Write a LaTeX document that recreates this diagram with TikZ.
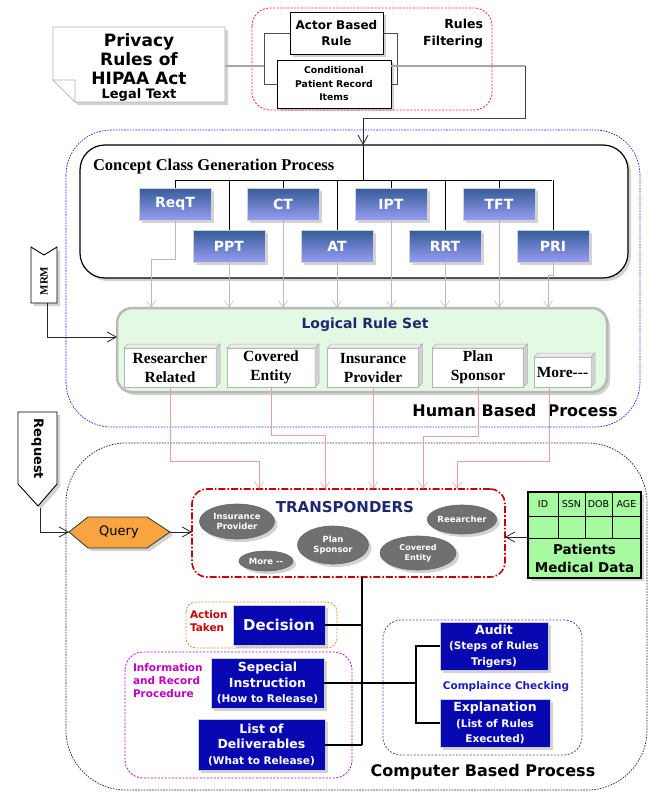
\documentclass[tikz,border=0pt]{standalone}
\usepackage{fontspec}
\newfontfamily\dv{DejaVu Sans}
\newfontfamily\tm{Liberation Serif}
\usetikzlibrary{shadows,arrows.meta,calc,shapes.geometric}
\definecolor{gtop}{RGB}{52,92,152}
\definecolor{gbot}{RGB}{152,156,242}
\definecolor{navy}{RGB}{30,40,110}
\definecolor{dblue}{RGB}{8,8,178}
\definecolor{qorange}{RGB}{248,164,64}
\definecolor{pgreen}{RGB}{166,250,160}
\definecolor{lgreen}{RGB}{228,249,228}
\definecolor{ellg}{RGB}{112,112,112}
\definecolor{pinkl}{RGB}{226,160,160}
\definecolor{tred}{RGB}{200,0,0}
\definecolor{mag}{RGB}{190,0,190}
\definecolor{cblue}{RGB}{30,30,185}
\definecolor{aorange}{RGB}{240,128,60}
\newcommand\fsz[2]{\fontsize{#1}{#2}\selectfont}
\newcommand\cubefaces[1]{%
 \path[fill=gray!15,draw=gray!60,line width=0.5pt] (#1.north west) -- ([shift={(4pt,4pt)}]#1.north west) -- ([shift={(4pt,4pt)}]#1.north east) -- (#1.north east) -- cycle;
 \path[fill=gray!35,draw=gray!60,line width=0.5pt] (#1.north east) -- ([shift={(4pt,4pt)}]#1.north east) -- ([shift={(4pt,4pt)}]#1.south east) -- (#1.south east) -- cycle;}
\begin{document}
\begin{tikzpicture}[x=1pt,y=-1pt,
 every node/.style={inner sep=0pt,outer sep=0pt},
 sh/.style={drop shadow={shadow xshift=3pt,shadow yshift=-3pt,opacity=0.35}},
 wbox/.style={draw=black,line width=1pt,fill=white,sh,align=center,font=\dv\bfseries\fsz{12}{16}},
 gbox/.style={draw=gray!35,line width=0.8pt,top color=gtop,bottom color=gbot,minimum width=72pt,minimum height=32pt,font=\dv\bfseries\fsz{14}{16},text=white,sh},
 cube/.style={draw=gray!60,line width=0.6pt,fill=white,align=center,font=\tm\bfseries\fsz{15.5}{19}},
 ell/.style={ellipse,draw=black!60,line width=0.6pt,fill=ellg,text=white,align=center,font=\dv\bfseries\fsz{8.5}{10.5},sh},
 bbox/.style={draw=gray!40,line width=0.8pt,fill=dblue,text=white,align=center,font=\dv\bfseries\fsz{12.5}{15.5},sh},
 garrow/.style={draw=gray!55,line width=0.5pt,-{Straight Barb[length=7pt,width=9pt]}},
 parrow/.style={draw=pinkl,line width=0.5pt,-{Straight Barb[length=7pt,width=9pt]}},
 bus/.style={draw=black,line width=0.8pt},
 tline/.style={draw=black,line width=2pt},
 karrow/.style={draw=black!85,line width=0.8pt,-{Straight Barb[length=9pt,width=10pt]}},
 bigtext/.style={font=\dv\bfseries\fsz{16}{18}}
]
\useasboundingbox (0,0) rectangle (648,795);
\fill[white] (0,0) rectangle (648,795);

% ---------- regions ----------
\draw[blue!85,line width=0.7pt,dash pattern=on 1.6pt off 1.2pt,rounded corners=45pt] (66,130) rectangle (640,427);
\draw[black!85,line width=0.7pt,dash pattern=on 1.6pt off 1.2pt,rounded corners=60pt] (66,443) rectangle (647,790);

% ---------- legal text note ----------
\path[fill=white,draw=gray!60,line width=0.8pt,sh] (53,27) -- (225,27) -- (225,102) -- (75,102) -- (53,80) -- cycle;
\path[fill=white,draw=gray!60,line width=0.6pt] (53,80) -- (75,80) -- (75,102) -- cycle;
\node[font=\dv\bfseries\fsz{17}{19},align=center] (note) at (139,59) {Privacy\\Rules of\\HIPAA Act};
\node[font=\dv\bfseries\fsz{13}{14}] (legal) at (139,95) {Legal Text};
\coordinate (noteE) at (225,66);
\coordinate (lb) at (264,66);

% ---------- rules filtering ----------
\draw[red!85,line width=0.8pt,dash pattern=on 2pt off 1.5pt,rounded corners=18pt] (252,8) rectangle (492,110);
\node[font=\dv\bfseries\fsz{12.5}{17},align=right,anchor=east] (rft) at (483,33.5) {Rules\\Filtering};
\node[wbox,minimum width=93pt,minimum height=42pt] (abr) at (336.5,33) {Actor Based\\Rule};
\node[wbox,minimum width=114pt,minimum height=48pt,font=\dv\bfseries\fsz{9.3}{13.5}] (cpr) at (334,84) {Conditional\\Patient Record\\Items};
\draw[black!70,line width=1pt] (abr.west) -- ++(-26,0) |- (cpr.west);
\draw[black!70,line width=1pt] (abr.east) -- ++(14,0) |- (cpr.east);
\draw[gray!70,line width=1.3pt] (noteE) -- (lb);
\coordinate (cprE) at (391,66);
\coordinate (turn) at (525,66);
\draw[gray!70,line width=1.3pt] (cprE) -- (turn);
\coordinate (entry) at (363,145);
\draw[black!75,line width=0.9pt] (turn) -- (525,118) -- (363,118);
\draw[karrow] (363,118) -- (entry);

% ---------- concept class generation ----------
\node[draw=black,line width=1.2pt,fill=white,rounded corners=25pt,minimum width=548pt,minimum height=133pt,sh] (ccg) at (354,211.5) {};
\node[font=\tm\bfseries\fsz{16.5}{18},anchor=west] (ccgt) at (93,167) {Concept Class Generation Process};
\coordinate (busL) at (175,180);
\coordinate (busR) at (552,180);
\draw[bus] (entry) -- (entry |- busL);
\draw[bus] (busL) -- (busR);

\node[gbox] (reqt) at (175,204) {ReqT};
\node[gbox] (ct) at (283,204) {CT};
\node[gbox] (ipt) at (391,204) {IPT};
\node[gbox] (tft) at (499,204) {TFT};
\node[gbox] (ppt) at (229,246) {PPT};
\node[gbox] (at) at (337,246) {AT};
\node[gbox] (rrt) at (445,246) {RRT};
\node[gbox] (pri) at (553,246) {PRI};
\foreach \n in {reqt,ct,ipt,tft,ppt,at,rrt,pri}{
  \draw[bus] (\n.north |- busL) -- (\n.north);}

% ---------- logical rule set ----------
\node[draw=gray!55,line width=2.5pt,fill=lgreen,rounded corners=15pt,minimum width=490pt,minimum height=84pt,sh] (lrs) at (362,350) {};
\node[font=\dv\bfseries\fsz{14}{16},text=navy] (lrst) at (365,325) {Logical Rule Set};
\node[cube,minimum width=92pt,minimum height=39pt] (rr) at (170,367.5) {Researcher\\Related};
\node[cube,minimum width=88pt,minimum height=39pt] (ce) at (271,367.5) {Covered\\Entity};
\node[cube,minimum width=91pt,minimum height=39pt] (ip) at (373,367.5) {Insurance\\Provider};
\node[cube,minimum width=91pt,minimum height=39pt] (ps) at (478,367.5) {Plan\\Sponsor};
\node[cube,minimum width=57pt,minimum height=30pt] (mo) at (562.5,372) {More---};
\foreach \n in {rr,ce,ip,ps,mo}{\cubefaces{\n}}

% gray arrows concept -> logical
\draw[garrow] (reqt.south) -- (175,259) -- (151,259) -- (151,308);
\foreach \n in {ppt,ct,at,ipt,rrt,tft}{
  \draw[garrow] (\n.south) -- (\n.south |- lrs.north);}
\draw[garrow] (pri.south) -- (553,275) -- (548,275) -- (548,308);

\node[bigtext] (hbp) at (515,411) {Human Based~ Process};

% ---------- MRM ----------
\path[fill=white,draw=black,line width=0.9pt,sh] (31,247) -- (44,255) -- (57,247) -- (57,303) -- (31,303) -- cycle;
\node[font=\tm\bfseries\fsz{11}{12},rotate=90] (mrm) at (44,281) {MRM};
\coordinate (mrmS) at (47,303);
\draw[karrow] (mrmS) |- (117,337);

% ---------- request & query ----------
\path[fill=white,draw=black,line width=0.9pt,sh] (18,412) -- (57,412) -- (57,484) -- (38,506) -- (18,484) -- cycle;
\node[font=\dv\bfseries\fsz{13}{14},rotate=-90] (req) at (37.5,449) {Request};
\coordinate (reqS) at (40,508);
\path[fill=qorange,draw=black!80,line width=0.8pt,sh] (69,532) -- (88,517) -- (147,517) -- (170,532) -- (147,548) -- (88,548) -- cycle;
\node[font=\dv\fsz{13}{14}] (query) at (119,532) {Query};
\coordinate (qW) at (69,532);
\coordinate (qE) at (170,532);
\draw[karrow] (reqS) |- (qW);

% ---------- transponders ----------
\node[draw=tred,line width=1.6pt,dash pattern=on 7pt off 2pt on 1.6pt off 2pt,rounded corners=15pt,minimum width=313pt,minimum height=88pt] (tr) at (348.5,533) {};
\draw[karrow] (qE) -- (tr.west |- qE);
\node[font=\dv\bfseries\fsz{15}{17},text=navy] (trt) at (345,507) {TRANSPONDERS};
\node[ell,minimum width=75pt,minimum height=35pt] (e1) at (237,521.5) {Insurance\\Provider};
\node[ell,minimum width=54pt,minimum height=20pt] (e2) at (266,561) {More --};
\node[ell,minimum width=71pt,minimum height=38pt] (e3) at (333,545) {Plan\\Sponsor};
\node[ell,minimum width=76pt,minimum height=34pt,font=\dv\bfseries\fsz{8}{10}] (e4) at (418,553) {Covered\\Entity};
\node[ell,minimum width=68pt,minimum height=29pt] (e5) at (462,519.5) {Reearcher};

% pink arrows logical -> transponders
\draw[parrow] (rr.south) -- (170,461) -- (259,461) -- (259,489);
\draw[parrow] (ce.south) -- (271,435) -- (325,435) -- (325,489);
\draw[parrow] (ip.south) -- (ip.south |- tr.north);
\draw[parrow] (ps.south) -- (478,436) -- (423,436) -- (423,489);
\coordinate (moS) at (549,387);
\draw[parrow] (moS) -- (549,461) -- (457,461) -- (457,489);

% ---------- patients medical data ----------
\node[draw=black,line width=1.6pt,fill=pgreen,minimum width=113pt,minimum height=86pt,sh] (pmd) at (584.5,535) {};
\draw[black,line width=0.8pt] (528,516) -- (641,516) (528,538) -- (641,538);
\foreach \x in {558,585,612}{\draw[black,line width=0.8pt] (\x,492) -- (\x,538);}
\node[font=\dv\fsz{9.5}{11}] (hid) at (543,504) {ID};
\node[font=\dv\fsz{9.5}{11}] (hssn) at (571.5,504) {SSN};
\node[font=\dv\fsz{9.5}{11}] (hdob) at (598.5,504) {DOB};
\node[font=\dv\fsz{9.5}{11}] (hage) at (626.5,504) {AGE};
\node[font=\dv\bfseries\fsz{13.5}{18},align=center] (pmdt) at (584.5,558) {Patients\\Medical Data};
\coordinate (pmdW) at (528,537);
\draw[karrow] (pmdW) -- (tr.east |- pmdW);

% ---------- bottom regions ----------
\draw[aorange,line width=0.8pt,dash pattern=on 2pt off 1.5pt,rounded corners=10pt] (186,602) rectangle (337,648);
\draw[mag,line width=0.8pt,dash pattern=on 2pt off 1.5pt,rounded corners=18pt] (125,652) rectangle (352,778);
\draw[cblue!80,line width=0.8pt,dash pattern=on 2pt off 1.5pt,rounded corners=18pt] (383,620) rectangle (582,755);

\node[font=\dv\bfseries\fsz{10.5}{13.5},text=tred,align=left,anchor=west] (act) at (190,621) {Action\\Taken};
\node[font=\dv\bfseries\fsz{10.5}{13},text=mag,align=left,anchor=west] (irp) at (133,681) {Information\\and Record\\Procedure};
\node[font=\dv\bfseries\fsz{10.5}{12},text=cblue] (cc) at (506,687) {Complaince Checking};

% ---------- bottom boxes ----------
\node[bbox,minimum width=92pt,minimum height=40pt,font=\dv\bfseries\fsz{15}{17}] (dec) at (279,625) {Decision};
\node[bbox,minimum width=113pt,minimum height=50pt] (si) at (267.5,683) {Sepecial\\Instruction\\{\fsz{10.5}{15.5}(How to Release)}};
\node[bbox,minimum width=127pt,minimum height=51pt] (ld) at (261.5,744.5) {List of\\Deliverables\\{\fsz{10.5}{15.5}(What to Release)}};
\node[bbox,minimum width=108pt,minimum height=48pt] (au) at (494,646) {Audit\\{\fsz{10.5}{13.5}(Steps of Rules}\\{\fsz{10.5}{13.5}Trigers)}};
\node[bbox,minimum width=110pt,minimum height=48pt] (ex) at (495,723) {Explanation\\{\fsz{10.5}{13.5}(List of Rules}\\{\fsz{10.5}{13.5}Executed)}};

\coordinate (trS) at (362,577);
\coordinate (cj) at (416,683);
\draw[tline] (trS) -- (trS |- ld.east);
\draw[tline] (dec.east) -- (dec.east -| trS);
\draw[tline] (si.east) -- (cj);
\draw[tline] (ld.east) -- (ld.east -| trS);
\draw[tline] (au.west) -| (cj) |- (ex.west);

\node[bigtext] (cbp) at (483,772) {Computer Based Process};
\end{tikzpicture}
\end{document}
